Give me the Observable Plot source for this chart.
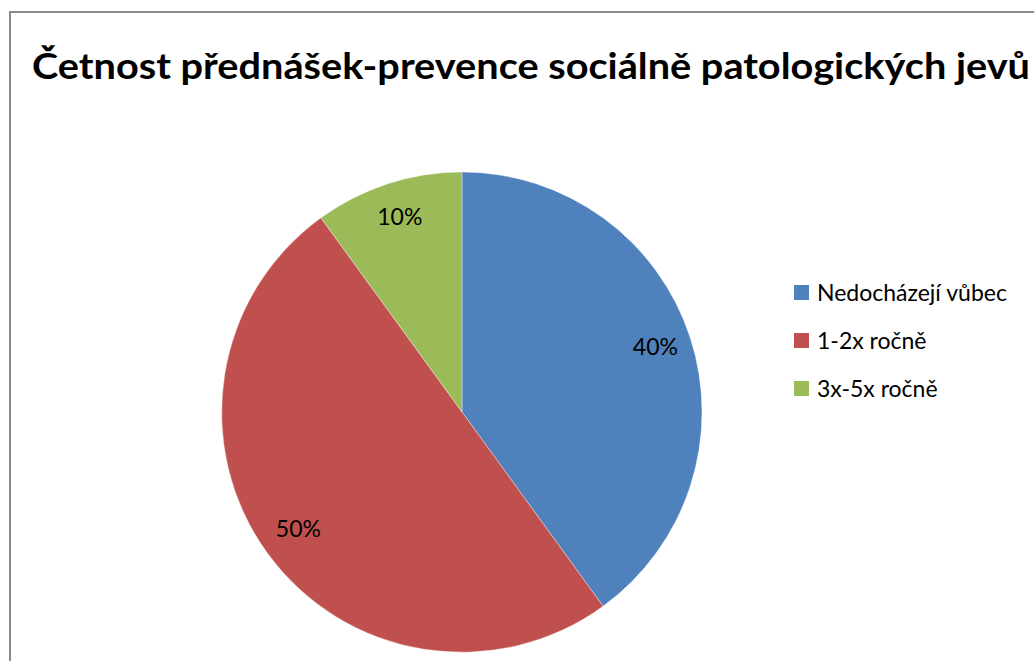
<!DOCTYPE html>
<html>
<head>
<meta charset="utf-8">
<script src="https://cdn.jsdelivr.net/npm/d3@7"></script>
<script src="https://cdn.jsdelivr.net/npm/@observablehq/plot@0.6"></script>
<style>
  html, body { margin: 0; padding: 0; background: #fff; overflow: hidden; }
  #wrap { position: relative; width: 1034px; height: 661px; overflow: hidden; font-family: Lato, "Open Sans", sans-serif; }
  #border { position: absolute; left: 9px; top: 11px; width: 1100px; height: 800px; border: 2px solid #8a8a8a; box-sizing: border-box; }
  #title { position: absolute; left: 32px; top: 46px; font-weight: bold; font-size: 37px; white-space: nowrap; color: #000; transform-origin: 0 0; line-height: 1; }
  #legend { position: absolute; left: 794px; top: 268px; }
  .item { display: flex; align-items: center; height: 48px; font-size: 23px; color: #000; white-space: nowrap; }
  .sw { width: 15px; height: 15px; margin-right: 8px; }
  #chart { position: absolute; left: 0; top: 0; }
</style>
</head>
<body>
<div id="wrap">
  <div id="border"></div>
  <div id="chart"></div>
  <div id="title"></div>
  <div id="legend"></div>
</div>
<script>
const titleText = "Četnost přednášek-prevence sociálně patologických jevů";
const categories = ["Nedocházejí vůbec", "1-2x ročně", "3x-5x ročně"];
const values = [40, 50, 10];
const colors = ["#4F81BD", "#C0504D", "#9BBB59"];
const labels = ["40%", "50%", "10%"];

const cx = 462, cy = 412, R = 240;

const data = categories.map((c, i) => ({category: c, value: values[i], label: labels[i]}));
const arcs = d3.pie().sort(null).value(d => d.value)(data);
const labelR = 0.845;
const labelData = arcs.map(a => {
  const mid = (a.startAngle + a.endAngle) / 2;
  return {label: a.data.label, x: Math.sin(mid) * labelR, y: Math.cos(mid) * labelR};
});

const color = d3.scaleOrdinal(categories, colors);

const plot = Plot.plot({
  width: 1034,
  height: 661,
  margin: 0,
  style: {background: "transparent", overflow: "visible"},
  x: {domain: [-1, 1], range: [cx - R, cx + R], axis: null},
  y: {domain: [-1, 1], range: [cy + R, cy - R], axis: null},
  marks: [
    (index, scales) => {
      const x0 = scales.x(0), y0 = scales.y(0);
      const r = Math.abs(scales.x(1) - scales.x(0));
      const g = d3.create("svg:g").attr("transform", `translate(${x0},${y0})`);
      const arc = d3.arc().innerRadius(0).outerRadius(r);
      g.selectAll("path").data(arcs).join("path")
        .attr("d", arc)
        .attr("fill", d => color(d.data.category))
        .attr("stroke", "#fff")
        .attr("stroke-width", 0.6)
        .attr("stroke-opacity", 0.6);
      return g.node();
    },
    Plot.text(labelData, {
      x: "x", y: "y", text: "label",
      fontSize: 23, fill: "#000",
      fontFamily: "Lato, 'Open Sans', sans-serif",
      textAnchor: "middle",
      dy: -2
    })
  ]
});
document.getElementById("chart").appendChild(plot);

// title
const t = document.getElementById("title");
t.textContent = titleText;
const w = t.getBoundingClientRect().width;
t.style.transform = `scaleX(${998 / w})`;

// legend
const lg = d3.select("#legend");
const items = lg.selectAll(".item").data(categories).join("div").attr("class", "item");
items.append("div").attr("class", "sw").style("background", d => color(d));
items.append("span").text(d => d);
</script>
</body>
</html>
